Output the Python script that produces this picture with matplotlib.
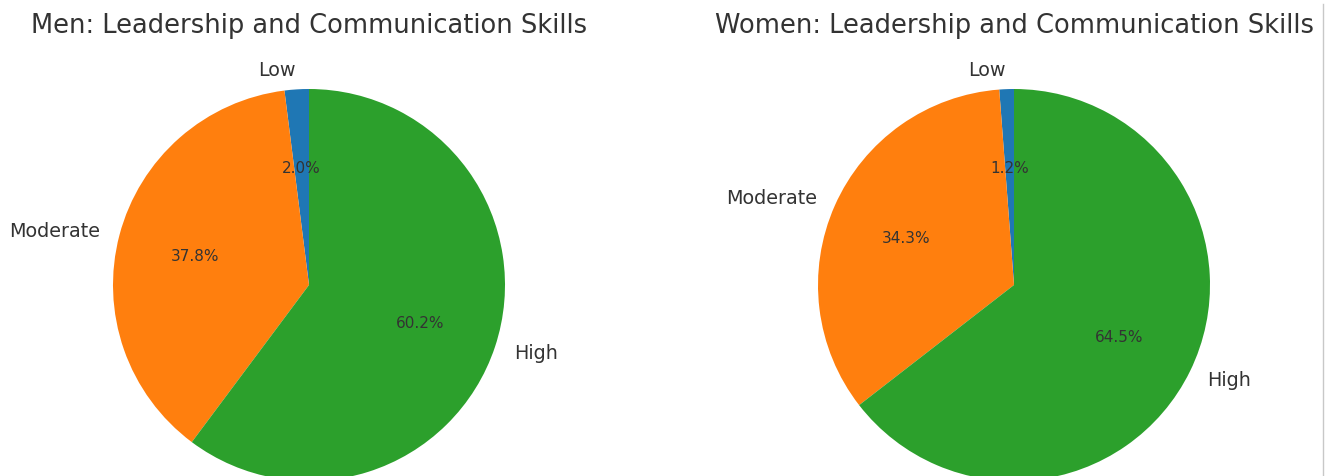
import matplotlib

matplotlib.use("Agg")
import matplotlib.pyplot as plt
from matplotlib.lines import Line2D

LEVELS = ["Low", "Moderate", "High"]
MEN = [2.0, 37.8, 60.2]
WOMEN = [1.2, 34.3, 64.5]
COLORS = ["#1f77b4", "#ff7f0e", "#2ca02c"]
TEXT = "#333333"

W, H = 1331, 477
fig = plt.figure(figsize=(W / 100, H / 100), dpi=100, facecolor="white")

# one square axes per pie, sized so the pie radius is ~196 px
R = 196
side = 2.5 * R
for cx, title, vals in ((309, "Men: Leadership and Communication Skills", MEN),
                        (1014, "Women: Leadership and Communication Skills", WOMEN)):
    cy = H - 286
    ax = fig.add_axes([(cx - side / 2) / W, (cy - side / 2) / H, side / W, side / H])
    _, texts, autotexts = ax.pie(vals, labels=LEVELS, colors=COLORS,
                                 autopct="%1.1f%%", startangle=90)
    for t in texts:
        t.set_fontsize(13.8)
        t.set_color(TEXT)
    for t in autotexts:
        t.set_fontsize(11)
        t.set_color(TEXT)
    ax.set_title(title, fontsize=18.5, color=TEXT, pad=6)

# thin separator at the right edge
fig.add_artist(Line2D([1322.5 / W, 1322.5 / W], [0, 1 - 5 / H],
                      transform=fig.transFigure, color="#c8c8c8", lw=1))

fig.savefig("out.png", dpi=100, facecolor="white")
